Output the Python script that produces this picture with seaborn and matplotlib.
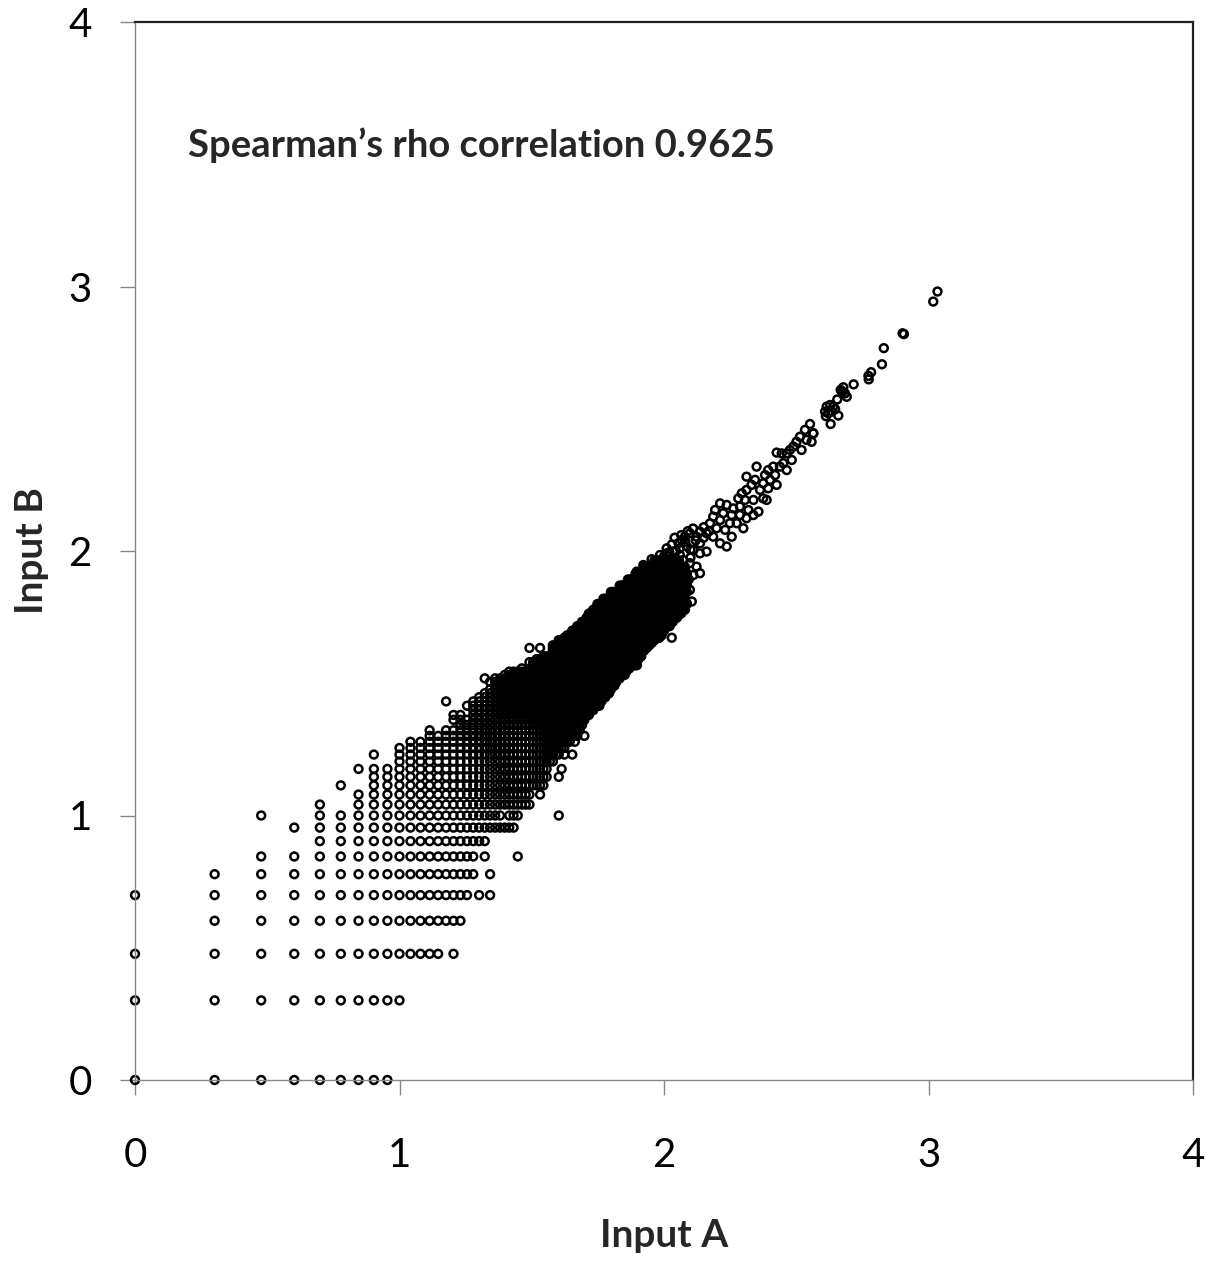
#!/usr/bin/env python3
"""Scatter of log10 counts, Input A vs Input B, with Spearman annotation."""

import matplotlib
matplotlib.use("Agg")
import matplotlib.pyplot as plt
import numpy as np
import pandas as pd
import seaborn as sns

# Low/medium counts: for each count of Input B, the counts of Input A that
# show up in that row (ints, or (lo, hi) runs of consecutive counts).
ROW_B_COUNTS = [1, 2, 3, 4, 5, 6, 7, 8, 9, 10,
                11, 12, 13, 14, 15, 16, 17, 18, 19, 20,
                21, 22, 23, 24, 25, 26, 27, 28, 29, 30,
                31, 32, 33, 34, 35, 36, 37, 38, 39, 40,
                42, 43, 44, 45, 46, 47, 48, 50, 52, 54,
                56, 58, 60, 63, 66, 70, 74, 78, 82, 87,
                92]
ROW_A_SPANS = [
    [(1, 9)],
    [(1, 10)],
    [(1, 14), 16],
    [(2, 17)],
    [(1, 18), 20, 22],
    [(2, 19), 22],
    [(3, 19), 21, 28],
    [(5, 21)],
    [(4, 27)],
    [3, (5, 24), (26, 28), 40],
    [5, (7, 31)],
    [(7, 31), 34],
    [6, (8, 35)],
    [(8, 36), 40],
    [(7, 36), 41],
    [(10, 38)],
    [8, (10, 40), 42, 45],
    [(10, 42)],
    [(11, 44), 46],
    [(13, 47), 50],
    [13, (15, 48)],
    [(17, 49)],
    [(16, 50)],
    [16, 17, (19, 52)],
    [(19, 54)],
    [(18, 57)],
    [15, (19, 58)],
    [(20, 60)],
    [21, (22, 62)],
    [(22, 63)],
    [(23, 65)],
    [(22, 66)],
    [21, (23, 68)],
    [(25, 71)],
    [(26, 72)],
    [29, (32, 74)],
    [(32, 79)],
    [(31, 78)],
    [(33, 80)],
    [(35, 82)],
    [(38, 84)],
    [31, 34, (38, 86)],
    [(38, 88)],
    [(40, 90)],
    [(40, 92)],
    [(42, 96), 107],
    [(43, 98)],
    [(45, 100)],
    [(47, 105)],
    [(49, 108)],
    [(51, 112)],
    [(52, 116)],
    [(54, 120)],
    [(56, 122)],
    [(59, 120)],
    [(63, 122)],
    [(68, 122)],
    [(73, 124)],
    [(78, 122)],
    [(84, 120)],
    [(92, 114)],
]

# High counts: individual points, already in log10 units
UPPER_X = [
    2.552, 2.533, 2.564, 2.514, 2.539, 2.501, 2.520, 2.558, 2.489, 2.476,
    2.464, 2.445, 2.426, 2.483, 2.451, 2.438, 2.464, 2.413, 2.394, 2.350,
    2.420, 2.401, 2.382, 2.375, 2.426, 2.394, 2.363, 2.344, 2.312, 2.331,
    2.312, 2.294, 2.281, 2.306, 2.338, 2.375, 2.388, 2.357, 2.338, 2.319,
    2.287, 2.262, 2.237, 2.212, 2.193, 2.224, 2.256, 2.287, 2.312, 2.300,
    2.275, 2.249, 2.212, 2.186, 2.174, 2.199, 2.231, 2.256, 2.237, 2.212,
    2.186, 2.161, 2.136, 2.123, 2.098, 2.079, 2.067, 2.136, 2.161, 2.136,
    2.111, 2.086, 2.060, 2.035, 2.010, 1.985, 1.953, 1.922, 1.897, 2.073,
    2.098, 2.048, 2.023, 1.997, 1.966, 2.123, 2.136, 2.111, 2.086, 2.060,
    2.035, 2.010, 1.985, 1.960, 1.934, 1.909, 1.878, 1.859, 1.846, 1.884,
    1.922, 1.960, 1.997, 2.035, 2.073, 2.098, 2.060, 2.023, 1.985, 1.947,
    1.909, 1.871, 1.834, 1.808, 1.783, 1.764, 1.777, 1.815, 1.859, 1.897,
    1.934, 1.972, 2.010, 2.029, 2.086, 2.105, 2.048,
    2.000, 2.020, 2.045, 2.010, 2.030, 2.055, 2.080, 2.040, 2.065, 2.090,
    2.110, 2.120, 2.150, 2.100, 2.150, 2.170, 1.975, 1.990, 2.060, 2.100,
    3.034, 3.018, 2.902, 2.907, 2.831, 2.824, 2.783, 2.773, 2.774, 2.717,
    2.678, 2.668, 2.684, 2.691, 2.655, 2.675, 2.615, 2.628, 2.640, 2.609,
    2.621, 2.634, 2.647, 2.659, 2.630, 2.612, 2.565,
]
UPPER_Y = [
    2.480, 2.458, 2.445, 2.432, 2.420, 2.413, 2.382, 2.413, 2.395, 2.382,
    2.369, 2.369, 2.372, 2.344, 2.332, 2.319, 2.306, 2.319, 2.306, 2.319,
    2.287, 2.269, 2.287, 2.256, 2.250, 2.237, 2.231, 2.269, 2.281, 2.250,
    2.231, 2.218, 2.199, 2.193, 2.193, 2.199, 2.193, 2.149, 2.136, 2.155,
    2.168, 2.161, 2.174, 2.180, 2.155, 2.143, 2.136, 2.136, 2.124, 2.086,
    2.105, 2.105, 2.117, 2.130, 2.105, 2.086, 2.080, 2.054, 2.017, 2.029,
    2.054, 2.067, 2.073, 2.054, 2.067, 2.054, 2.042, 2.029, 1.998, 1.991,
    2.004, 2.017, 2.010, 1.998, 1.991, 1.985, 1.969, 1.947, 1.922, 1.966,
    1.954, 1.954, 1.966, 1.954, 1.941, 1.941, 1.916, 1.909, 1.916, 1.928,
    1.916, 1.916, 1.916, 1.903, 1.891, 1.878, 1.865, 1.878, 1.846, 1.828,
    1.846, 1.853, 1.865, 1.865, 1.865, 1.853, 1.828, 1.828, 1.815, 1.815,
    1.802, 1.809, 1.815, 1.802, 1.815, 1.796, 1.765, 1.765, 1.777, 1.765,
    1.771, 1.752, 1.777, 1.765, 1.802, 1.809, 1.790,
    1.980, 1.995, 2.000, 2.010, 2.025, 2.030, 2.035, 2.050, 2.060, 2.075,
    2.085, 2.040, 2.050, 2.005, 2.090, 2.075, 1.960, 1.945, 1.985, 1.975,
    2.981, 2.943, 2.823, 2.820, 2.767, 2.706, 2.676, 2.662, 2.649, 2.630,
    2.619, 2.609, 2.596, 2.583, 2.573, 2.602, 2.546, 2.552, 2.546, 2.527,
    2.521, 2.527, 2.536, 2.512, 2.480, 2.510, 2.445,
]

TICKS = [0, 1, 2, 3, 4]
ANNOTATION = "Spearman\u2019s rho correlation 0.9625"


def build_frame() -> pd.DataFrame:
    a_counts, b_counts = [], []
    for b, spans in zip(ROW_B_COUNTS, ROW_A_SPANS):
        for span in spans:
            if isinstance(span, tuple):
                run = list(range(span[0], span[1] + 1))
            else:
                run = [span]
            a_counts.extend(run)
            b_counts.extend([b] * len(run))
    low = pd.DataFrame({"A": np.log10(a_counts), "B": np.log10(b_counts)})
    high = pd.DataFrame({"A": UPPER_X, "B": UPPER_Y})
    return pd.concat([low, high], ignore_index=True)


def main() -> None:
    sns.set_style("white")
    plt.rcParams["font.family"] = ["Lato", "DejaVu Sans"]

    df = build_frame()
    fig = plt.figure(figsize=(12.13, 12.62), dpi=100)
    ax = fig.add_axes([135 / 1213, 182 / 1262, 1058 / 1213, 1058 / 1262])

    sns.scatterplot(
        data=df, x="A", y="B", ax=ax,
        marker="o", s=32, facecolor="none", edgecolor="black",
        linewidth=1.8, clip_on=False, legend=False,
    )

    ax.set_xlim(0, 4)
    ax.set_ylim(0, 4)
    ax.set_xticks(TICKS)
    ax.set_yticks(TICKS)
    ax.tick_params(axis="both", direction="out", length=11, width=1,
                   color="#868686", labelsize=29, labelcolor="black")
    ax.tick_params(axis="x", pad=30)
    ax.tick_params(axis="y", pad=20)
    ax.tick_params(axis="both", which="both", bottom=True, left=True)
    for side in ("left", "bottom"):
        ax.spines[side].set_color("#868686")
        ax.spines[side].set_linewidth(1)
    for side in ("top", "right"):
        ax.spines[side].set_color("#222222")
        ax.spines[side].set_linewidth(1.6)

    ax.set_xlabel("Input A", fontsize=28, fontweight="bold", labelpad=32)
    ax.set_ylabel("Input B", fontsize=28, fontweight="bold", labelpad=14)
    ax.text(0.2, 3.535, ANNOTATION, fontsize=27.5, fontweight="bold",
            ha="left", va="center")

    fig.savefig("out.png", dpi=100)
    plt.close(fig)


if __name__ == "__main__":
    main()
